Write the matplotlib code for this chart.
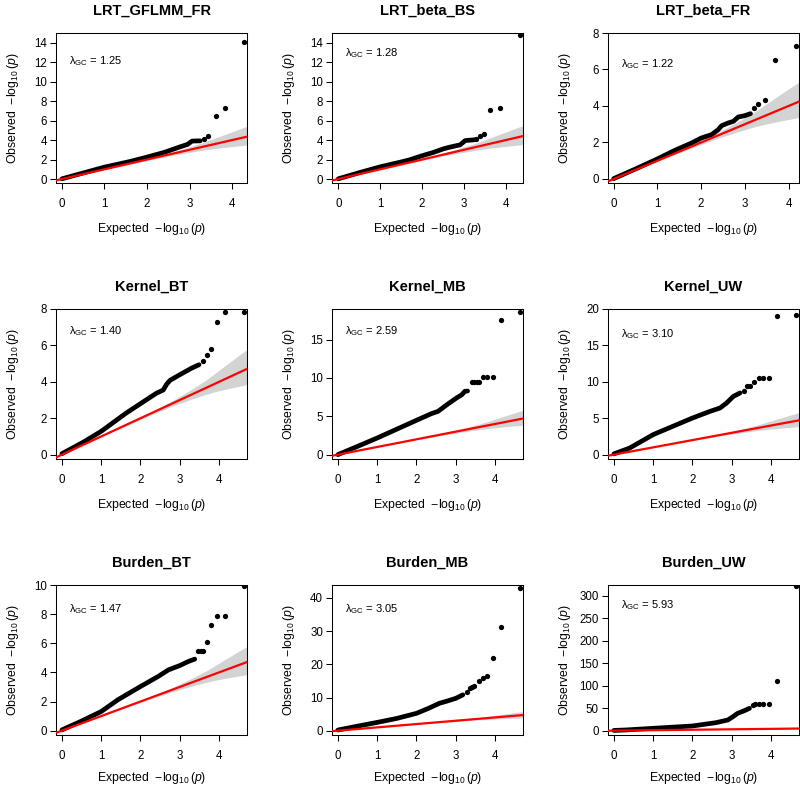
import numpy as np
import matplotlib
matplotlib.use('Agg')
import matplotlib.pyplot as plt

plt.rcParams['font.family'] = ['Liberation Sans', 'DejaVu Sans']
plt.rcParams['mathtext.fontset'] = 'custom'
plt.rcParams['mathtext.rm'] = 'Liberation Sans'
plt.rcParams['mathtext.it'] = 'Liberation Sans:italic'
plt.rcParams['mathtext.bf'] = 'Liberation Sans:bold'

# panel titles and lambda_GC values
titles = ['LRT_GFLMM_FR', 'LRT_beta_BS', 'LRT_beta_FR',
          'Kernel_BT', 'Kernel_MB', 'Kernel_UW',
          'Burden_BT', 'Burden_MB', 'Burden_UW']
lambdas = ['1.25', '1.28', '1.22', '1.40', '2.59', '3.10', '1.47', '3.05', '5.93']

# dense part of each QQ curve (expected, observed -log10 p)
gflmm_x = [0.0, 0.5, 1.0, 1.6, 2.0, 2.4, 2.8, 2.95, 3.06, 3.25]
gflmm_y = [0.02, 0.62, 1.22, 1.8, 2.25, 2.73, 3.34, 3.55, 3.9, 3.92]
gflmm_tx = [3.33, 3.44, 3.61, 3.83, 4.29]
gflmm_ty = [4.1, 4.37, 6.52, 7.27, 14.1]

betabs_x = [0.0, 0.5, 1.0, 1.5, 1.71, 2.0, 2.27, 2.51, 2.67, 2.91, 3.03, 3.25]
betabs_y = [0.02, 0.65, 1.25, 1.75, 1.98, 2.39, 2.73, 3.1, 3.28, 3.51, 3.95, 4.03]
betabs_tx = [3.29, 3.38, 3.49, 3.63, 3.86, 4.33]
betabs_ty = [4.13, 4.44, 4.64, 7.07, 7.3, 14.8]

betafr_x = [0.0, 0.5, 1.0, 1.4, 1.78, 2.01, 2.24, 2.39, 2.47, 2.62, 2.74, 2.85, 3.0, 3.13]
betafr_y = [0.02, 0.55, 1.1, 1.57, 1.97, 2.25, 2.43, 2.7, 2.92, 3.07, 3.16, 3.4, 3.47, 3.58]
betafr_tx = [3.21, 3.31, 3.46, 3.68, 4.16]
betafr_ty = [3.87, 4.09, 4.35, 6.54, 7.30]

kbt_x = [0.0, 0.54, 1.0, 1.64, 2.0, 2.41, 2.58, 2.66, 2.75, 3.0, 3.3, 3.49]
kbt_y = [0.05, 0.68, 1.28, 2.29, 2.8, 3.38, 3.55, 3.85, 4.08, 4.39, 4.75, 4.94]
kbt_tx = [3.60, 3.69, 3.79, 3.94, 4.16, 4.64]
kbt_ty = [5.12, 5.48, 5.83, 7.26, 7.86, 7.86]

kmb_x = [0.0, 0.51, 1.0, 2.0, 2.38, 2.55, 2.77, 3.02, 3.15, 3.23, 3.3]
kmb_y = [0.0, 1.1, 2.17, 4.48, 5.35, 5.65, 6.5, 7.4, 7.8, 8.26, 8.3]
kmb_tx = [3.41, 3.46, 3.53, 3.60, 3.69, 3.79, 3.94, 4.16, 4.64]
kmb_ty = [9.43, 9.43, 9.43, 9.43, 10.13, 10.13, 10.13, 17.5, 18.6]

kuw_x = [0.0, 0.4, 1.0, 2.0, 2.45, 2.7, 2.87, 3.04, 3.21]
kuw_y = [0.1, 0.9, 2.75, 5.03, 5.95, 6.4, 7.1, 8.0, 8.47]
kuw_tx = [3.30, 3.38, 3.47, 3.57, 3.68, 3.79, 3.94, 4.16, 4.64]
kuw_ty = [8.7, 9.47, 9.47, 9.93, 10.48, 10.48, 10.48, 19.0, 19.13]

bbt_x = [0.0, 0.47, 1.0, 1.42, 2.0, 2.45, 2.71, 3.0, 3.22, 3.38]
bbt_y = [0.05, 0.62, 1.31, 2.11, 3.03, 3.72, 4.17, 4.47, 4.75, 4.91]
bbt_tx = [3.46, 3.53, 3.60, 3.69, 3.79, 3.94, 4.16, 4.64]
bbt_ty = [5.5, 5.5, 5.5, 6.06, 7.27, 7.84, 7.84, 9.91]

bmb_x = [0.0, 0.43, 1.0, 1.5, 2.0, 2.3, 2.58, 2.8, 3.0, 3.18]
bmb_y = [0.2, 1.2, 2.5, 3.7, 5.23, 6.7, 8.24, 9.0, 9.75, 10.8]
bmb_tx = [3.29, 3.36, 3.41, 3.46, 3.60, 3.69, 3.79, 3.94, 4.16, 4.64]
bmb_ty = [11.8, 12.9, 13.3, 13.6, 15.1, 15.8, 16.5, 22.0, 31.2, 43.1]

buw_x = [0.0, 0.3, 1.0, 2.0, 2.6, 2.9, 3.03, 3.15, 3.32, 3.45]
buw_y = [0.5, 1.5, 5.2, 10.4, 17.8, 23.8, 31.2, 38.6, 44.5, 49.7]
buw_tx = [3.53, 3.60, 3.69, 3.79, 3.94, 4.16, 4.64]
buw_ty = [57, 59.4, 59.4, 59.4, 59.4, 110, 323]

# confidence band half widths, by distance below the largest expected value
band_d = [-0.1, 0.0, 0.25, 0.48, 0.7, 0.95, 1.3, 1.8, 2.3, 3.3, 4.8]
band_up = [1.07, 1.03, 0.88, 0.74, 0.6, 0.44, 0.3, 0.16, 0.09, 0.03, 0.01]
band_dn = [0.86, 0.83, 0.69, 0.57, 0.46, 0.36, 0.26, 0.15, 0.085, 0.03, 0.01]

curves = [(gflmm_x, gflmm_y, gflmm_tx, gflmm_ty),
          (betabs_x, betabs_y, betabs_tx, betabs_ty),
          (betafr_x, betafr_y, betafr_tx, betafr_ty),
          (kbt_x, kbt_y, kbt_tx, kbt_ty),
          (kmb_x, kmb_y, kmb_tx, kmb_ty),
          (kuw_x, kuw_y, kuw_tx, kuw_ty),
          (bbt_x, bbt_y, bbt_tx, bbt_ty),
          (bmb_x, bmb_y, bmb_tx, bmb_ty),
          (buw_x, buw_y, buw_tx, buw_ty)]

yticks = [range(0, 15, 2), range(0, 15, 2), range(0, 9, 2),
          range(0, 9, 2), range(0, 16, 5), range(0, 21, 5),
          range(0, 11, 2), range(0, 41, 10), range(0, 301, 50)]
xlims = [(-0.14, 4.35), (-0.15, 4.41), (-0.13, 4.24)] + [(-0.15, 4.71)] * 6
ylims = [(-0.41, 15.0), (-0.41, 15.0), (-0.22, 8.0),
         (-0.24, 7.99), (-0.57, 19.0), (-0.6, 20.0),
         (-0.3, 10.0), (-1.3, 43.9), (-9.7, 324.4)]
lam_ypos = [0.813, 0.868, 0.793, 0.853, 0.853, 0.835, 0.84, 0.84, 0.869]

W, H = 800, 787
fig = plt.figure(figsize=(W / 100, H / 100), dpi=100)
col_left = [56, 332, 608]
row_top = [33, 309, 585]
bw, bh = 191, 150

for k in range(9):
    r, c = divmod(k, 3)
    ax = fig.add_axes([col_left[c] / W, (H - row_top[r] - bh) / H, bw / W, bh / H])
    x, y, tx, ty = curves[k]
    xmax = tx[-1]
    bx = xmax - np.array(band_d)
    ax.fill_between(bx, bx - np.array(band_dn), bx + np.array(band_up),
                    color='#d3d3d3', lw=0, zorder=1)
    ax.plot(x, y, '-', color='black', lw=3.4, solid_capstyle='round',
            solid_joinstyle='round', zorder=2)
    ax.plot(tx, ty, 'o', color='black', ms=3.8, mec='none', zorder=2)
    ax.axline((0, 0), slope=1, color='red', lw=1.6, zorder=3)

    ax.set_xlim(*xlims[k])
    ax.set_ylim(*ylims[k])
    ax.set_xticks(range(0, 5))
    ax.set_yticks(list(yticks[k]))
    ax.tick_params(direction='out', length=4.5, width=0.75, labelsize=8.3, colors='black')
    ax.tick_params(axis='x', pad=6)
    ax.tick_params(axis='y', pad=2)
    for s in ax.spines.values():
        s.set_linewidth(0.75)

    ax.set_xlabel(r'Expected  $-\log_{10}(p)$', fontsize=8.8)
    ax.set_ylabel(r'Observed  $-\log_{10}(p)$', fontsize=8.8)
    # bottom row sits right at the lower image edge, lift it a touch
    ax.xaxis.set_label_coords(0.5, -0.255 if r < 2 else -0.236)
    ax.yaxis.set_label_coords(-0.185, 0.5)

    ax.text(0.5, 1 + 18 / bh, titles[k], transform=ax.transAxes, ha='center',
            va='baseline', fontsize=10.5, fontweight='bold')
    ax.text(0.068, lam_ypos[k], r'$\mathrm{\lambda_{GC}}$ = ' + lambdas[k],
            transform=ax.transAxes, ha='left', va='center', fontsize=8)

fig.savefig('out.png', dpi=100)
